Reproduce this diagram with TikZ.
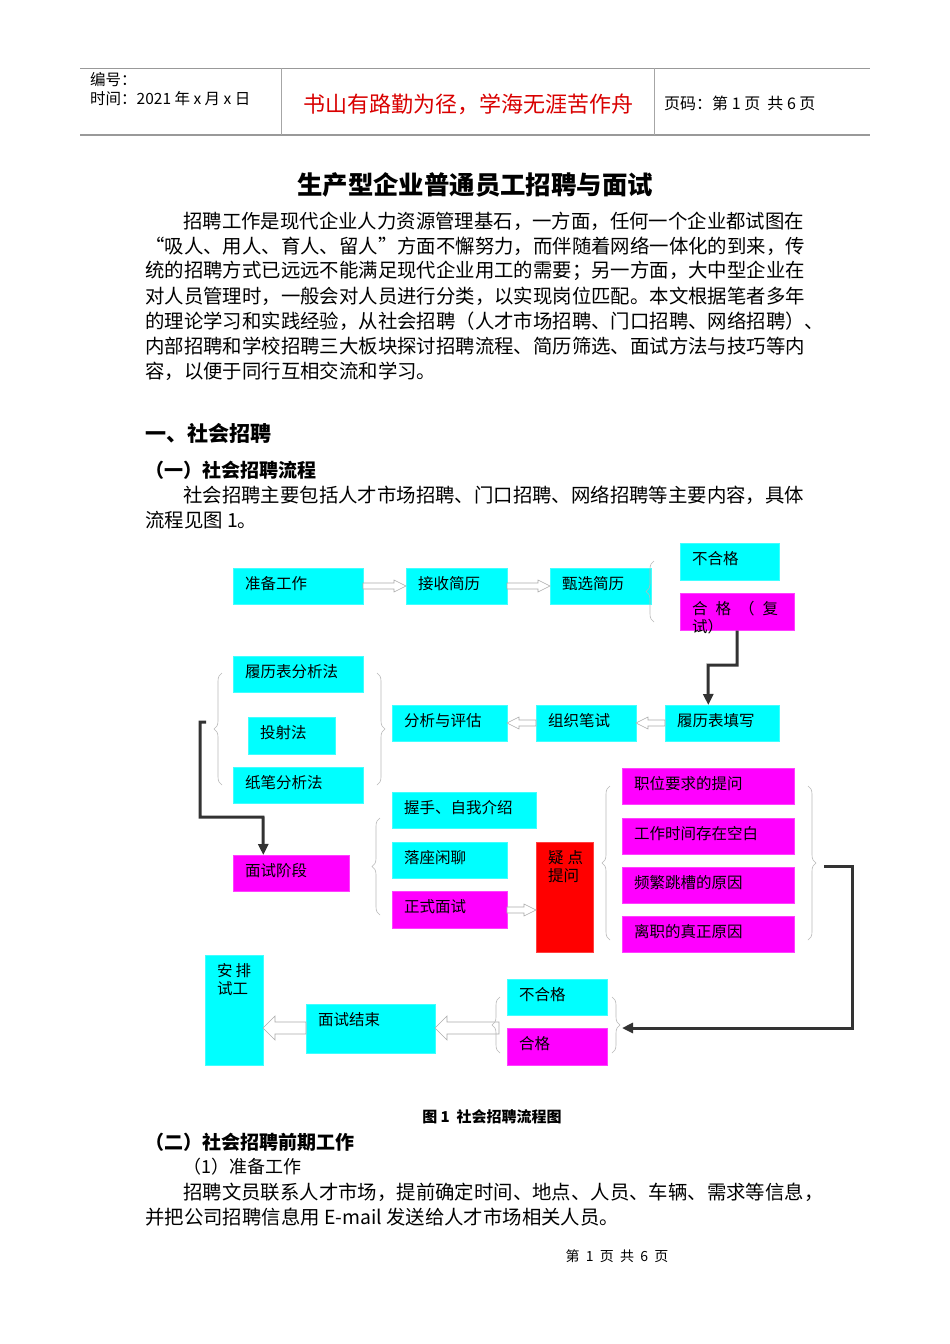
\documentclass[tikz,border=0pt]{standalone}
\usepackage{fontspec}
\setmainfont{Noto Sans CJK SC}
\usetikzlibrary{decorations.pathreplacing,arrows.meta}
\definecolor{cy}{HTML}{00FFFF}
\definecolor{mg}{HTML}{FF00FF}
\definecolor{rd}{HTML}{FF0000}
\newcommand\fs[1]{\fontsize{#1}{#1}\selectfont}
\newcommand\bx[7]{%
  \node[boxst,fill=#6,draw=#6!75!white,minimum width={(#4-#2)*1pt},minimum height={(#5-#3)*1pt},anchor=north west] (#1) at (#2,#3) {};
  \node[anchor=north west,inner sep=0,align=left,font=\fontsize{15.5}{18}\selectfont] (#1t) at (#2+12,#3+8) {#7};}
\newcommand\harrow[4]{% x1 x2 y halfshaft
  \pgfmathsetmacro\hd{(#2>#1)?12:-12}
  \pgfmathsetmacro\hh{#4*2}
  \draw[gray!65,fill=white,line width=0.6pt] (#1,#3-#4) -- ({#2-\hd},#3-#4) -- ({#2-\hd},#3-\hh) -- (#2,#3) -- ({#2-\hd},#3+\hh) -- ({#2-\hd},#3+#4) -- (#1,#3+#4) -- cycle;}
\tikzset{boxst/.style={rectangle,inner sep=0,line width=0.6pt},
  brc/.style={draw=gray!55,line width=0.6pt,decorate,decoration={brace,amplitude=8pt}},
  thk/.style={draw=black!80,line width=3pt,-{Triangle[length=11pt,width=10pt]}},
  txt/.style={anchor=west,inner sep=0,font=\fs{19.4}}}
\begin{document}
\begin{tikzpicture}[x=1pt,y=-1pt]
\useasboundingbox[fill=white] (0,0) rectangle (950,1344);
% header
\draw[gray!80,line width=1pt] (80,68) -- (870,68);
\draw[gray!80,line width=1.6pt] (80,135) -- (870,135);
\draw[gray!70,line width=0.6pt] (281,68) -- (281,135) (654,68) -- (654,135);
\node[txt,font=\fs{15.5}] (h1) at (90,80) {编号：};
\node[txt,font=\fs{15.5}] (h2) at (90,99) {时间：2021 年 x 月 x 日};
\node[inner sep=0,font=\fs{22},text=red!85!black] (h3) at (468,104) {书山有路勤为径，学海无涯苦作舟};
\node[txt,font=\fs{16}] (h4) at (664,103) {页码：第 1 页\ \ 共 6 页};
% title
\node[inner sep=0,font=\fs{25.4}\bfseries] (ti) at (475,185) {生产型企业普通员工招聘与面试};
\node[txt] (p1) at (183,221) {招聘工作是现代企业人力资源管理基石，一方面，任何一个企业都试图在};
\node[txt] (p2) at (145,246) {“吸人、用人、育人、留人”方面不懈努力，而伴随着网络一体化的到来，传};
\node[txt] (p3) at (145,271) {统的招聘方式已远远不能满足现代企业用工的需要；另一方面，大中型企业在};
\node[txt] (p4) at (145,296) {对人员管理时，一般会对人员进行分类，以实现岗位匹配。本文根据笔者多年};
\node[txt] (p5) at (145,321) {的理论学习和实践经验，从社会招聘（人才市场招聘、门口招聘、网络招聘）、};
\node[txt] (p6) at (145,346) {内部招聘和学校招聘三大板块探讨招聘流程、简历筛选、面试方法与技巧等内};
\node[txt] (p7) at (145,371) {容，以便于同行互相交流和学习。};
\node[txt,font=\fs{21}\bfseries] (s1) at (145,433) {一、社会招聘};
\node[txt,font=\fs{19}\bfseries] (s2) at (145,470) {（一）社会招聘流程};
\node[txt] (p8) at (183,495) {社会招聘主要包括人才市场招聘、门口招聘、网络招聘等主要内容，具体};
\node[txt] (p9) at (145,520) {流程见图 1。};
% boxes
\bx{zb}{233}{568}{363}{604}{cy}{准备工作}
\bx{js}{406}{568}{507}{604}{cy}{接收简历}
\bx{zx}{550}{568}{651}{604}{cy}{甄选简历}
\bx{bh}{680}{543}{779}{580}{cy}{不合格}
\bx{hg}{680}{593}{794}{630}{mg}{合\hspace{8pt}格\hspace{8pt}（\hspace{8pt}复\\试）}
\bx{ll}{233}{656}{363}{692}{cy}{履历表分析法}
\bx{ts}{248}{717}{335}{754}{cy}{投射法}
\bx{zb2}{233}{767}{363}{803}{cy}{纸笔分析法}
\bx{fx}{392}{705}{507}{741}{cy}{分析与评估}
\bx{bs}{536}{705}{636}{741}{cy}{组织笔试}
\bx{tx}{665}{705}{779}{741}{cy}{履历表填写}
\bx{ws}{392}{792}{536}{828}{cy}{握手、自我介绍}
\bx{lz}{392}{842}{507}{878}{cy}{落座闲聊}
\bx{zs}{392}{891}{507}{928}{mg}{正式面试}
\bx{ms}{233}{855}{349}{891}{mg}{面试阶段}
\bx{yd}{536}{842}{593}{952}{rd}{疑\hspace{4pt}点\\提问}
\bx{q1}{622}{768}{794}{804}{mg}{职位要求的提问}
\bx{q2}{622}{818}{794}{854}{mg}{工作时间存在空白}
\bx{q3}{622}{867}{794}{903}{mg}{频繁跳槽的原因}
\bx{q4}{622}{916}{794}{952}{mg}{离职的真正原因}
\bx{ap}{205}{955}{263}{1065}{cy}{安\hspace{3pt}排\\试工}
\bx{js2}{306}{1004}{435}{1053}{cy}{面试结束}
\bx{bh2}{507}{979}{607}{1015}{cy}{不合格}
\bx{hg2}{507}{1028}{607}{1065}{mg}{合格}
% hollow arrows
\harrow{363}{406}{586}{3}
\harrow{507}{550}{586}{3}
\harrow{665}{636}{723}{3}
\harrow{536}{507}{723}{3}
\harrow{507}{536}{910}{3}
\harrow{499}{435}{1028}{6}
\harrow{306}{263}{1028}{6}
% braces
\draw[brc] (654,622) -- (654,561);
\draw[brc] (222,785) -- (222,673);
\draw[brc] (377,673) -- (377,785);
\draw[brc] (380,915) -- (380,818);
\draw[brc] (610,940) -- (610,786);
\draw[brc] (808,786) -- (808,940);
\draw[brc] (500,1053) -- (500,997);
\draw[brc] (612,997) -- (612,1053);
% thick arrows
\draw[thk] (hg.south -| 737,0) -- (737,665) -- (708,665) -- ([xshift=-14pt]tx.north);
\coordinate (c1) at (206,722);
\draw[thk] (c1) -- (200,722) -- (200,817) -- (263,817) -- ([xshift=-28pt]ms.north);
\coordinate (c2) at (824,866);
\draw[thk] (c2) -- (852,866) -- (852,1028) -- (622,1028);
% captions
\node[inner sep=0,font=\fs{15}\bfseries] (cap) at (492,1117) {图 1\ \ 社会招聘流程图};
\node[txt,font=\fs{19}\bfseries] (s3) at (145,1142) {（二）社会招聘前期工作};
\node[txt,font=\fs{18}] (s4) at (183,1167) {（1）准备工作};
\node[txt] (p10) at (183,1192) {招聘文员联系人才市场，提前确定时间、地点、人员、车辆、需求等信息，};
\node[txt] (p11) at (145,1217) {并把公司招聘信息用 E-mail 发送给人才市场相关人员。};
\node[inner sep=0,font=\fs{14}] (ft) at (617,1256) {第\ \ 1\ \ 页\ \ 共\ \ 6\ \ 页};
\end{tikzpicture}
\end{document}
